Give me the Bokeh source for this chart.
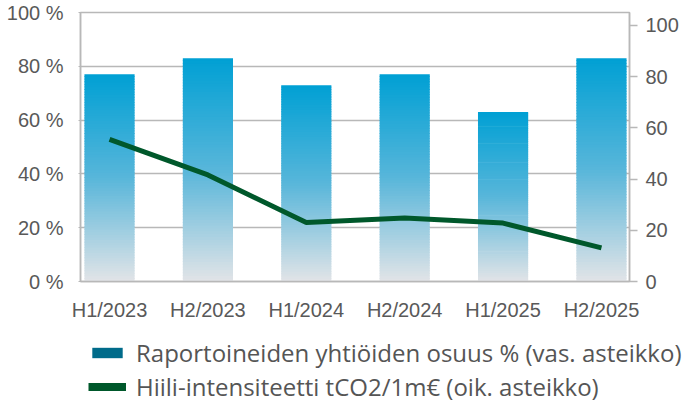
from bokeh.plotting import figure
from bokeh.layouts import column
from bokeh.models import (Range1d, LinearAxis, FixedTicker, Legend, LegendItem,
                          CustomJSTickFormatter)
from bokeh.embed import file_html
from bokeh.resources import INLINE

# ---- data ----
categories = ["H1/2023", "H2/2023", "H1/2024", "H2/2024", "H1/2025", "H2/2025"]
share_pct = [77, 83, 73, 77, 63, 83]             # left axis, %
intensity = [55.5, 41.6, 23, 24.8, 22.8, 13.1]   # right axis, tCO2/1m€
left_ticks = [0, 20, 40, 60, 80, 100]
right_ticks = [0, 20, 40, 60, 80, 100]
bar_label = "Raportoineiden yhtiöiden osuus % (vas. asteikko)"
line_label = "Hiili-intensiteetti tCO2/1m€ (oik. asteikko)"

AX_FONT = "Liberation Sans"
LEG_FONT = "Open Sans"
TXT = "#595959"
GRID = "#b8b8b8"
LINE_C = "#00582b"
W = 682

p = figure(width=W, height=326, output_backend="svg", toolbar_location=None,
           x_range=Range1d(-0.295, 5.285), y_range=Range1d(0, 100),
           min_border_left=80, min_border_right=53, min_border_top=12,
           min_border_bottom=45)
if "frame_align" in p.properties():
    p.frame_align = False
p.extra_y_ranges = {"right": Range1d(0, 105)}
p.outline_line_color = GRID
p.outline_line_width = 1.5
p.xgrid.visible = False
p.ygrid.ticker = FixedTicker(ticks=left_ticks)
p.ygrid.grid_line_color = GRID
p.ygrid.grid_line_width = 1.5

# ---- gradient bars built from slices of each bar ----
N = 80
stops = [(0.0, (226, 228, 231)), (0.5, (88, 182, 218)), (1.0, (0, 160, 212))]

def grad(t):
    for (t0, c0), (t1, c1) in zip(stops[:-1], stops[1:]):
        if t <= t1:
            f = (t - t0) / (t1 - t0)
            return "#%02x%02x%02x" % tuple(int(round(a + (b - a) * f)) for a, b in zip(c0, c1))
    return "#%02x%02x%02x" % stops[-1][1]

bw = 0.51
L, R, B, T, C = [], [], [], [], []
for i, v in enumerate(share_pct):
    for k in range(N):
        L.append(i - bw / 2)
        R.append(i + bw / 2)
        B.append(v * k / N)
        T.append(min(v, v * (k + 1) / N + v * 0.004))
        C.append(grad((k + 0.5) / N))
p.quad(left=L, right=R, bottom=B, top=T, fill_color=C, line_color=None)

# ---- line on right axis ----
p.line(x=list(range(len(categories))), y=intensity, line_color=LINE_C,
       line_width=5, y_range_name="right")

# ---- axes ----
FS = "20px"
xa = p.xaxis[0]
xa.ticker = FixedTicker(ticks=list(range(len(categories))))
xa.major_label_overrides = {i: c for i, c in enumerate(categories)}
xa.major_tick_line_color = None
xa.minor_tick_line_color = None
xa.axis_line_color = GRID
xa.axis_line_width = 1.5
xa.major_label_standoff = 11
xa.major_label_text_font = AX_FONT
xa.major_label_text_font_size = FS
xa.major_label_text_color = TXT

ya = p.yaxis[0]
ya.ticker = FixedTicker(ticks=left_ticks)
ya.formatter = CustomJSTickFormatter(code="return tick + ' %'")
ya.axis_line_color = GRID
ya.axis_line_width = 1.5
ya.major_tick_line_color = GRID
ya.major_tick_out = 2
ya.major_tick_in = 0
ya.minor_tick_line_color = None
ya.major_label_standoff = 15
ya.major_label_text_font = AX_FONT
ya.major_label_text_font_size = FS
ya.major_label_text_color = TXT

ra = LinearAxis(y_range_name="right", ticker=FixedTicker(ticks=right_ticks))
ra.axis_line_color = GRID
ra.axis_line_width = 1.5
ra.major_tick_line_color = GRID
ra.major_tick_line_width = 1.5
ra.major_tick_out = 8
ra.major_tick_in = 0
ra.minor_tick_line_color = None
ra.major_label_standoff = 8
ra.major_label_text_font = AX_FONT
ra.major_label_text_font_size = FS
ra.major_label_text_color = TXT
p.add_layout(ra, "right")

# ---- legend in its own small figure ----
lg = figure(width=W, height=80, output_backend="svg", toolbar_location=None,
            x_axis_type=None, y_axis_type=None,
            x_range=Range1d(-0.5, 5.5), y_range=Range1d(0, 100),
            min_border_left=88, min_border_right=0, min_border_top=9,
            min_border_bottom=0)
if "frame_align" in lg.properties():
    lg.frame_align = False
lg.grid.visible = False
lg.outline_line_color = None
r_bar = lg.vbar(x=list(range(len(categories))), top=share_pct, width=bw,
                fill_color="#006b8a", line_color=None, visible=False)
r_line = lg.line(x=list(range(len(categories))), y=intensity,
                 line_color=LINE_C, line_width=8, visible=False)
leg = Legend(items=[LegendItem(label=bar_label, renderers=[r_bar]),
                    LegendItem(label=line_label, renderers=[r_line])],
             location="top_left", orientation="vertical",
             glyph_width=38, glyph_height=13, label_height=34, spacing=0,
             label_standoff=10, padding=0, margin=0,
             border_line_color=None, background_fill_alpha=0,
             label_text_font=LEG_FONT, label_text_font_size="24px",
             label_text_color="#555555")
lg.add_layout(leg, "center")

layout = column(p, lg, spacing=0)
open("out.html", "w").write(file_html(layout, INLINE))
